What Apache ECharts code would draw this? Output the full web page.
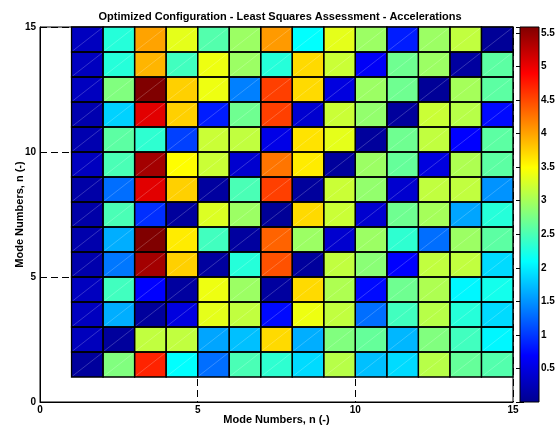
<!DOCTYPE html>
<html><head><meta charset="utf-8">
<script src="https://cdn.jsdelivr.net/npm/echarts@6/dist/echarts.min.js"></script>
<style>html,body{margin:0;padding:0;background:#fff}#c{width:557px;height:428px}</style>
</head><body><div id="c"></div>
<script>
const titleText = 'Optimized Configuration - Least Squares Assessment - Accelerations';
const xName = 'Mode Numbers, n (-)';
const yName = 'Mode Numbers, n (-)';
const modeX = [1,2,3,4,5,6,7,8,9,10,11,12,13,14];
const modeY = [14,13,12,11,10,9,8,7,6,5,4,3,2,1]; // rows listed top to bottom
const row14 = [0.30,2.30,4.00,3.35,2.55,2.95,4.05,2.10,3.35,2.95,0.85,2.95,3.15,0.05];
const row13 = [0.30,2.30,3.90,2.45,3.40,2.95,2.30,3.70,3.20,0.65,2.70,2.95,0.10,2.60];
const row12 = [0.30,2.80,5.59,3.75,3.40,1.40,4.55,3.70,0.50,2.95,2.70,0.05,3.00,2.60];
const row11 = [0.20,1.85,5.05,3.75,0.85,2.70,4.55,0.40,3.20,2.90,0.08,3.20,3.10,0.75];
const row10 = [0.20,2.60,2.35,1.05,3.20,3.15,0.55,3.65,3.35,0.08,2.70,3.15,0.70,2.60];
const row9  = [0.30,2.50,5.40,3.50,3.20,0.40,4.25,3.60,0.08,2.95,2.65,0.50,3.05,2.60];
const row8  = [0.15,1.30,5.05,3.75,0.10,2.50,4.55,0.08,3.20,2.90,0.40,3.15,3.15,1.50];
const row7  = [0.15,2.50,0.95,0.08,3.30,2.95,0.05,3.70,3.20,0.40,2.70,3.00,1.60,2.30];
const row6  = [0.18,1.65,5.59,3.60,2.45,0.10,4.35,2.95,0.40,2.95,2.35,1.30,2.95,2.60];
const row5  = [0.18,1.35,5.40,3.75,0.10,2.30,4.45,0.08,3.15,2.85,0.70,3.15,3.15,1.90];
const row4  = [0.30,2.45,0.70,0.10,3.40,2.95,0.10,3.70,3.05,0.75,2.70,3.05,2.05,2.20];
const row3  = [0.30,1.65,0.08,0.50,3.35,3.15,0.75,3.40,3.15,1.30,2.45,3.10,2.30,1.90];
const row2  = [0.28,0.08,3.15,3.15,1.60,1.75,3.70,1.65,2.80,2.65,1.70,2.80,2.45,2.05];
const row1  = [0.08,2.80,4.70,2.10,1.30,2.50,2.35,1.90,3.10,1.75,1.90,3.10,2.65,2.55];
const rows = [row14,row13,row12,row11,row10,row9,row8,row7,row6,row5,row4,row3,row2,row1];
const colorbarTicks = [0.5,1,1.5,2,2.5,3,3.5,4,4.5,5,5.5];
const cMin = 0, cMax = 5.59;
const jet = ['#00008f','#0000ff','#0080ff','#00ffff','#80ff80','#ffff00','#ff8000','#ff0000','#800000'];

const cells = [];
rows.forEach((r, i) => r.forEach((v, j) => cells.push([modeX[j], modeY[i], v])));

const font = 'Liberation Sans';

function cellFill(params, api) {
  const x = api.value(0), y = api.value(1);
  const p0 = api.coord([x, y]), p1 = api.coord([x + 1, y + 1]);
  return {type: 'group', children: [
    {type: 'rect', shape: {x: p0[0], y: p1[1], width: p1[0] - p0[0], height: p0[1] - p1[1]},
     style: {fill: api.visual('color')}},
    {type: 'line', shape: {x1: p0[0] + 1, y1: p0[1] - 1, x2: p1[0] - 1, y2: p1[1] + 1},
     style: {stroke: 'rgba(255,255,255,0.35)', lineWidth: 0.6}}
  ]};
}
function cellEdge(params, api) {
  const x = api.value(0), y = api.value(1);
  const p0 = api.coord([x, y]), p1 = api.coord([x + 1, y + 1]);
  return {type: 'rect', shape: {x: p0[0], y: p1[1], width: p1[0] - p0[0], height: p0[1] - p1[1]},
    style: {fill: 'none', stroke: '#000', lineWidth: 1.3}};
}
function colorbar(params, api) {
  const p0 = api.coord([0, api.value(0)]), p1 = api.coord([1, api.value(1)]);
  const stops = jet.map((c, i) => ({offset: i / (jet.length - 1), color: c}));
  return {type: 'rect', shape: {x: p0[0], y: p1[1], width: p1[0] - p0[0], height: p0[1] - p1[1]},
    style: {fill: {type: 'linear', x: 0, y: 1, x2: 0, y2: 0, colorStops: stops}, stroke: '#000', lineWidth: 1}};
}

const chart = echarts.init(document.getElementById('c'), null, {renderer: 'canvas'});
const labelStyle = {color: '#000', fontFamily: font, fontWeight: 'bold', fontSize: 10};
chart.setOption({
  animation: false,
  backgroundColor: '#fff',
  title: {text: titleText, left: 275, textAlign: 'center', top: 6, textStyle: {fontFamily: font, fontWeight: 'bold', fontSize: 11, color: '#000'}},
  grid: [
    {left: 40, top: 27, width: 473, height: 375, show: true, borderColor: '#000', borderWidth: 1, backgroundColor: '#fff', containLabel: false, outerBoundsMode: 'none'},
    {left: 520, top: 27, width: 19, height: 375, containLabel: false, outerBoundsMode: 'none'}
  ],
  xAxis: [
    {gridIndex: 0, type: 'value', min: 0, max: 15, interval: 5,
     name: xName, nameLocation: 'middle', nameGap: 12, nameMoveOverlap: false,
     nameTextStyle: {color: '#000', fontFamily: font, fontWeight: 'bold', fontSize: 11, verticalAlign: 'top'},
     axisLine: {show: true, lineStyle: {color: '#000', width: 1}},
     axisTick: {show: false},
     axisLabel: Object.assign({margin: 3}, labelStyle),
     splitLine: {show: true, lineStyle: {color: '#000', type: [7, 4], width: 1}}},
    {gridIndex: 1, type: 'value', min: 0, max: 1, show: false}
  ],
  yAxis: [
    {gridIndex: 0, type: 'value', min: 0, max: 15, interval: 5,
     name: yName, nameLocation: 'middle', nameGap: 15, nameMoveOverlap: false,
     nameTextStyle: {color: '#000', fontFamily: font, fontWeight: 'bold', fontSize: 11},
     axisLine: {show: true, lineStyle: {color: '#000', width: 1}},
     axisTick: {show: false},
     axisLabel: Object.assign({margin: 4}, labelStyle),
     splitLine: {show: true, lineStyle: {color: '#000', type: [7, 4], width: 1}}},
    {gridIndex: 1, type: 'value', min: cMin, max: cMax, interval: 0.5, position: 'right',
     axisLine: {show: false},
     axisTick: {show: true, inside: true, length: 4, lineStyle: {color: '#000'}},
     axisLabel: Object.assign({margin: 2, formatter: v => colorbarTicks.indexOf(v) >= 0 ? String(v) : ''}, labelStyle),
     splitLine: {show: false}},
    {gridIndex: 1, type: 'value', min: cMin, max: cMax, interval: 0.5, position: 'left',
     axisLine: {show: false},
     axisTick: {show: true, inside: true, length: 4, lineStyle: {color: '#000'}},
     axisLabel: {show: false}, splitLine: {show: false}}
  ],
  visualMap: {type: 'continuous', show: false, min: cMin, max: cMax, dimension: 2, seriesIndex: 0, inRange: {color: jet}},
  series: [
    {type: 'custom', xAxisIndex: 0, yAxisIndex: 0, renderItem: cellFill, data: cells, encode: {x: 0, y: 1}, z: 2},
    {type: 'custom', xAxisIndex: 0, yAxisIndex: 0, renderItem: cellEdge, data: cells, encode: {x: 0, y: 1}, z: 3},
    {type: 'custom', xAxisIndex: 1, yAxisIndex: 1, renderItem: colorbar, data: [[cMin, cMax]], encode: {y: [0, 1]}, z: 1}
  ]
});
</script></body></html>
